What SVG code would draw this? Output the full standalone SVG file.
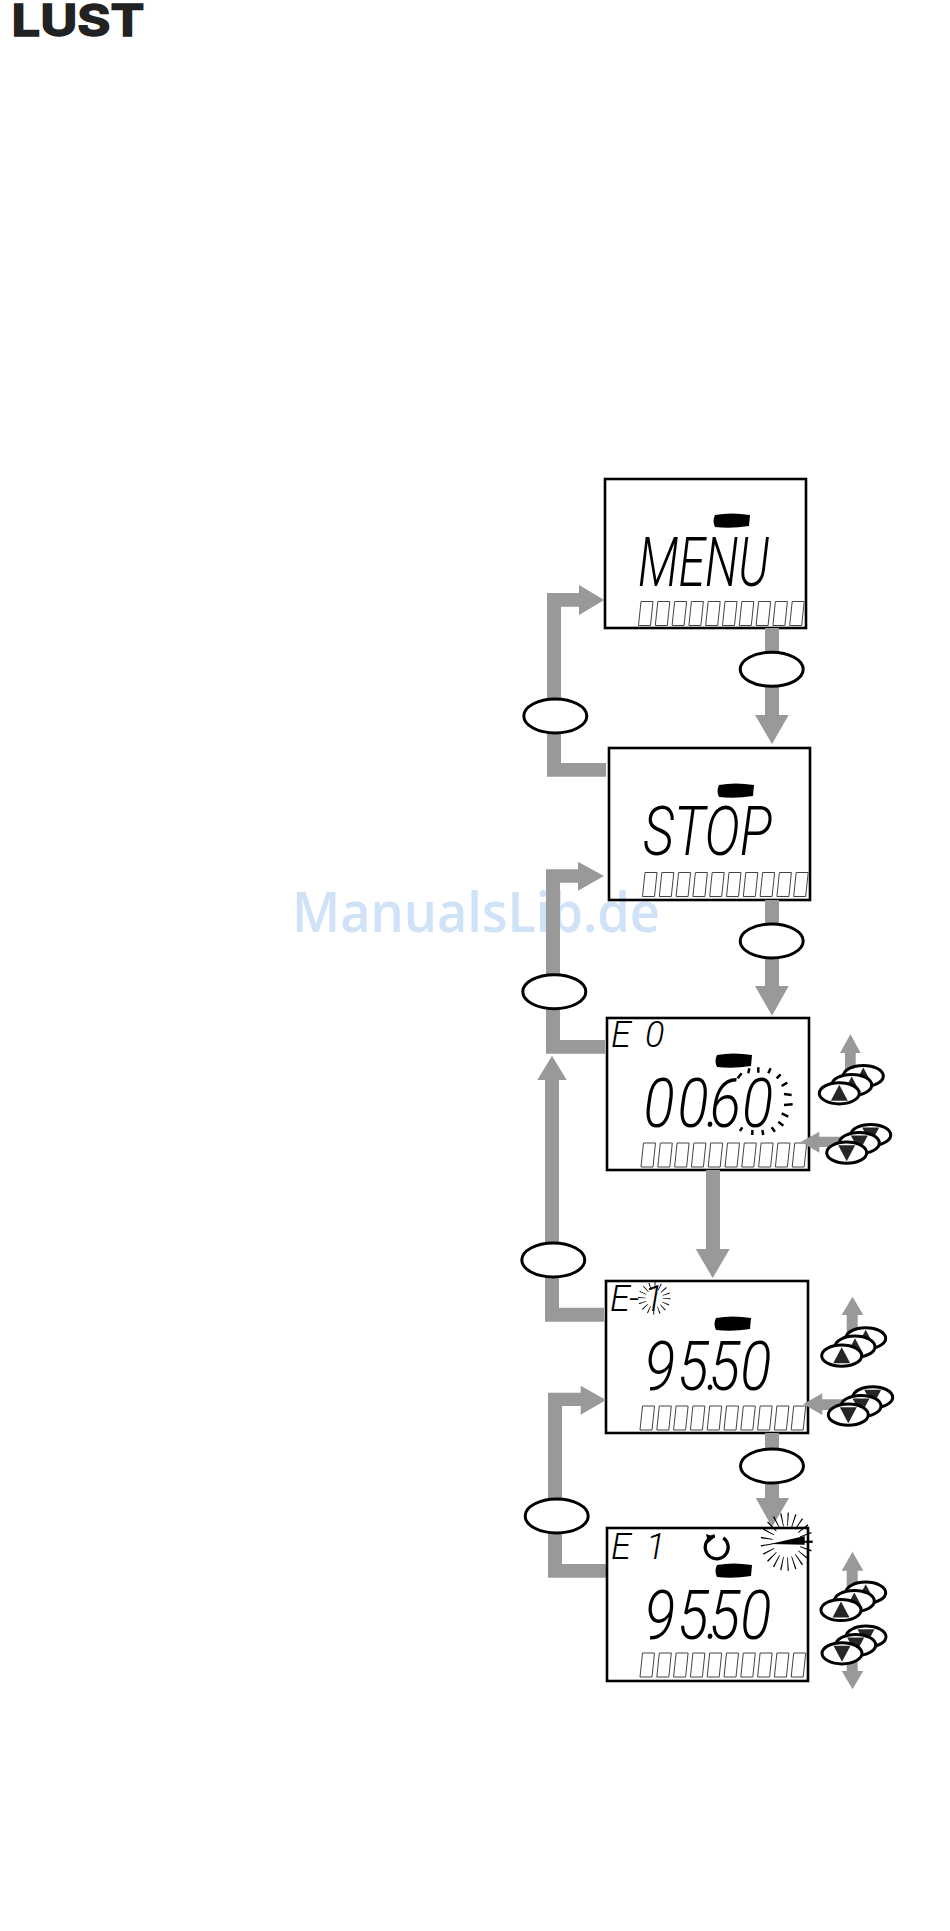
<svg xmlns="http://www.w3.org/2000/svg" width="950" height="1931" viewBox="0 0 950 1931">
<style>
.box{fill:none;stroke:#000;stroke-width:2.6}
.arrow{fill:#999}
.oval{fill:#fff;stroke:#000;stroke-width:3}
.btn{fill:#fff;stroke:#000;stroke-width:3}
.tri{fill:#262626}
.bar{fill:#000}
.lcd{fill:none;stroke:#444;stroke-width:1}
.big{font-family:"Roboto","Liberation Sans",sans-serif;font-style:italic;font-weight:300;font-size:68px;fill:#000}
.small{font-family:"Roboto","Liberation Sans",sans-serif;font-style:italic;font-weight:300;font-size:36px;fill:#000}
.ray{fill:none;stroke:#000}
</style>
<defs>
<path id="cells" class="lcd" d="M0 24l2.5-24h12l-2.5 24zm16.8 0l2.5-24h12l-2.5 24zm16.8 0l2.5-24h12l-2.5 24zm16.8 0l2.5-24h12l-2.5 24zm16.8 0l2.5-24h12l-2.5 24zm16.8 0l2.5-24h12l-2.5 24zm16.8 0l2.5-24h12l-2.5 24zm16.8 0l2.5-24h12l-2.5 24zm16.8 0l2.5-24h12l-2.5 24zm16.8 0l2.5-24h12l-2.5 24z"/>
<path id="lens" class="bar" d="M2 1Q18 -2 37 1L36 12Q18 15 2 13Q-1 7 2 1Z"/>
<g id="up"><ellipse class="btn" rx="20" ry="10.6"/><path class="tri" d="M0-8.5L8.5 7.5H-8.5Z"/></g>
<g id="down"><ellipse class="btn" rx="20" ry="10.6"/><path class="tri" d="M-8.5-7.5H8.5L0 8.5Z"/></g>
</defs>
<rect width="950" height="1931" fill="#fff"/>
<text id="watermark" x="292" y="932" font-family="'Open Sans','Noto Sans',sans-serif" font-weight="600" font-size="56" fill="#cfe2f8" textLength="368" lengthAdjust="spacingAndGlyphs">ManualsLib.de</text>
<text id="logo" x="11.5" y="35.5" font-family="Inter,'Liberation Sans',sans-serif" font-weight="700" font-size="44" fill="#222" stroke="#222" stroke-width="1.5" textLength="133" lengthAdjust="spacingAndGlyphs">LUST</text>

<g id="node-menu">
<rect class="box" x="605" y="479" width="201" height="149"/>
<use href="#lens" x="713" y="514"/>
<text class="big" x="638" y="586" textLength="131" lengthAdjust="spacingAndGlyphs">MENU</text>
<use href="#cells" x="638.5" y="601.5"/>
</g>
<g id="node-stop">
<rect class="box" x="609" y="748" width="201" height="152"/>
<use href="#lens" x="717" y="784"/>
<text class="big" x="643" y="855" textLength="129" lengthAdjust="spacingAndGlyphs">STOP</text>
<use href="#cells" x="642.5" y="872.5"/>
</g>
<g id="node-e0">
<rect class="box" x="607" y="1018" width="202" height="152"/>
<use href="#lens" x="715" y="1054"/>
<text class="small" x="611 633 645" y="1047">E 0</text>
<text class="big" transform="translate(0,1127) scale(.85,1)" x="757 797 831 835 873">00.60</text>
<g transform="translate(510,1010) scale(.3333)" class="ray" stroke-width="7.5">
<path d="M683 205L695 190M715 190L718 175M745 188V172M775 190L782 175M800 205L812 193M815 228L832 218M822 252L845 255M822 285L848 283M815 310L835 320M805 335L820 347M785 352L795 365M757 360L760 375M727 360V375M697 352L690 363"/>
</g>
<use href="#cells" x="641" y="1143"/>
</g>
<g id="node-e-1">
<rect class="box" x="606" y="1281" width="202" height="152"/>
<use href="#lens" x="714" y="1317"/>
<text class="small" x="610 629 644" y="1311">E-1</text>
<circle class="ray" cx="654.3" cy="1298.3" r="12.5" stroke-width="7.5" stroke-dasharray=".8 4.1"/>
<text class="big" transform="translate(0,1390) scale(.85,1)" x="758 797 831 834 871">95.50</text>
<use href="#cells" x="640" y="1406"/>
</g>

<g id="connectors">
<path class="arrow" d="M765 628H779V715H788.7L772 744L755 715H765Z"/>
<path class="arrow" d="M606 776.7H547V593H579V585L604.3 600L579 615V606.7H561V763H606Z"/>
<path class="arrow" d="M765 900H779V986H788.7L772 1015.7L755 986H765Z"/>
<path class="arrow" d="M605 1053.7H546V869.3H578V861.7L604 876L578 890.7V882.7H560V1040H605Z"/>
<path class="arrow" d="M604 1321.7H545V1080H537.3L552 1055.7L566.7 1080H559V1307.7H604Z"/>
<path class="arrow" d="M706 1170H720V1249H729.7L712.7 1278L695.7 1249H706Z"/>
<path class="arrow" d="M606.7 1577.7H548V1392.7H580.7V1385.7L606 1400L580.7 1414.7V1406H562V1564H606.7Z"/>
<path class="arrow" d="M765 1433H779V1498H789L772 1527L755.7 1498H765Z"/>
<path class="arrow" d="M845 1080V1053H840L850.4 1034.3L860.7 1053H855.7V1080Z"/>
<path class="arrow" d="M845 1136.7H819.3V1131.7L800.7 1142L819.3 1152.7V1147H845Z"/>
<path class="arrow" d="M846.7 1340V1315H841.7L852.5 1296.7L863.3 1315H857.7V1340Z"/>
<path class="arrow" d="M848 1399.3H822.3V1393.3L803.3 1404L822.3 1415V1410H848Z"/>
<path class="arrow" d="M846.7 1595V1570.7H841.7L852.5 1551.7L863.3 1570.7H857.7V1595Z"/>
<path class="arrow" d="M846.7 1650V1671H841.7L852.5 1689.3L863.3 1671H857.7V1650Z"/>
</g>

<g id="oval-1"><ellipse class="oval" cx="771.7" cy="669.3" rx="31.5" ry="17"/></g>
<g id="oval-2"><ellipse class="oval" cx="555.3" cy="716" rx="31.5" ry="17"/></g>
<g id="oval-3"><ellipse class="oval" cx="771.7" cy="941" rx="31.5" ry="17"/></g>
<g id="oval-4"><ellipse class="oval" cx="554.3" cy="991.7" rx="31.5" ry="17"/></g>
<g id="oval-5"><ellipse class="oval" cx="553.3" cy="1260" rx="31.5" ry="17"/></g>
<g id="oval-6"><ellipse class="oval" cx="772" cy="1466" rx="31.5" ry="17"/></g>
<g id="oval-7"><ellipse class="oval" cx="556.7" cy="1516" rx="31.5" ry="17"/></g>

<g id="keys-e0-up"><use href="#up" x="863.3" y="1076"/><use href="#up" x="851.7" y="1085"/><use href="#up" x="839.3" y="1093.3"/></g>
<g id="keys-e0-down"><use href="#down" x="870.7" y="1135"/><use href="#down" x="859.3" y="1143"/><use href="#down" x="846.7" y="1152.7"/></g>
<g id="keys-e-1-up"><use href="#up" x="865.7" y="1338.3"/><use href="#up" x="855" y="1346.7"/><use href="#up" x="841.7" y="1355.7"/></g>
<g id="keys-e-1-down"><use href="#down" x="872.7" y="1397.3"/><use href="#down" x="861" y="1406"/><use href="#down" x="848.3" y="1414.7"/></g>
<g id="keys-e1-up"><use href="#up" x="865.7" y="1592.7"/><use href="#up" x="854.3" y="1601"/><use href="#up" x="841" y="1610"/></g>
<g id="keys-e1-down"><use href="#down" x="866" y="1636.7"/><use href="#down" x="855.7" y="1645"/><use href="#down" x="842" y="1653.3"/></g>

<g id="node-e1">
<rect class="box" x="607" y="1528" width="201" height="153"/>
<use href="#lens" x="715" y="1564"/>
<text class="small" x="611 631 646" y="1559">E 1</text>
<circle cx="716.7" cy="1547.3" r="11.5" fill="none" stroke="#000" stroke-width="3.2" stroke-dasharray="63 9.3" transform="rotate(-55 716.7 1547.3)"/>
<path d="M706 1534L715 1537L708 1543Z" fill="#000"/>
<circle class="ray" transform="translate(786.7,1541.7) scale(1,1.12)" r="20" stroke-width="12" stroke-dasharray="1 4.9"/>
<path d="M770 1544L804.7 1536V1544.7Z" fill="#000"/>
<text class="big" transform="translate(0,1639) scale(.85,1)" x="758 797 831 834 871">95.50</text>
<use href="#cells" x="640" y="1653"/>
</g>
</svg>
